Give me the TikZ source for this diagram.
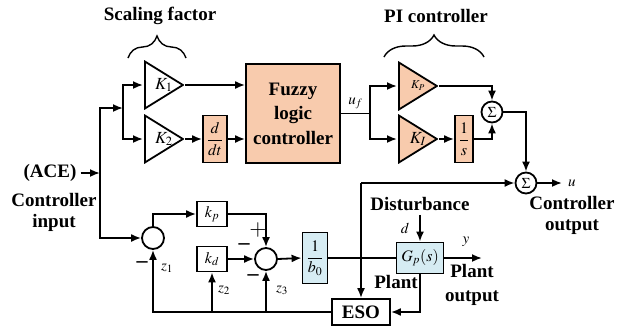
\documentclass[tikz,border=0pt]{standalone}
\usepackage{mathptmx}
\usepackage[no-math]{fontspec}
\setmainfont{Liberation Serif}
\usepackage{tikz}
\usetikzlibrary{arrows.meta,positioning,calc,shapes.geometric,decorations.pathreplacing}
\definecolor{peach}{HTML}{F8CBAD}
\definecolor{lightblue}{HTML}{D6ECF3}

\begin{document}
\begin{tikzpicture}[
  x=1pt, y=-1pt,
  line width=1.8pt,
  font=\rmfamily\fontsize{19}{21}\selectfont\bfseries,
  gain/.style={
    minimum width=40pt,
    minimum height=49pt,
    inner sep=0pt,
    anchor=west,
    font=\fontsize{17}{17}\selectfont,
    path picture={
      \draw[fill=#1]
        ($(path picture bounding box.north west)+(1,1)$) --
        ($(path picture bounding box.east)+(-1,0)$) --
        ($(path picture bounding box.south west)+(1,-1)$) -- cycle;
    }
  },
  gain/.default=white,
  block/.style={
    draw,
    inner sep=1pt,
    font=\fontsize{16}{16}\selectfont
  },
  sumnode/.style={
    draw,
    circle,
    minimum size=21pt,
    inner sep=0pt,
    font=\fontsize{15}{15}\selectfont
  },
  arrow/.style={-{Latex[length=10pt,width=8pt]}},
  lbl/.style={align=center},
  mlbl/.style={font=\fontsize{15}{15}\selectfont},
  sgn/.style={font=\rmfamily\fontsize{22}{22}\selectfont\bfseries}
]
\useasboundingbox (0,0) rectangle (619,330);

% upper path: scaling gains and fuzzy logic controller
\node[lbl] (scaltxt) at (160,16) {Scaling factor};
\node[lbl] (pitxt) at (436,16) {PI controller};
\draw[decorate,decoration={brace,amplitude=22pt},line width=1.4pt] (128,58) -- (186,58);
\draw[decorate,decoration={brace,amplitude=22pt},line width=1.4pt] (384,57) -- (484,57);

\node[gain] (k1) at (143,85) {$K_1$\hspace{10pt}};
\node[gain] (k2) at (143,139) {$K_2$\hspace{10pt}};
\node[block,fill=peach,minimum width=24pt,minimum height=47pt] (ddt) at (215,139) {$\displaystyle\frac{d}{dt}$};
\node[draw,fill=peach,align=center,minimum width=94pt,minimum height=99pt,font=\rmfamily\fontsize{19}{24.5}\selectfont\bfseries] (flc) at (293,113.5) {Fuzzy\\logic\\controller};

\node[gain=peach,font=\fontsize{12}{12}\selectfont] (kP) at (397,86) {$K_P$\hspace{12pt}};
\node[gain=peach] (kI) at (397,139) {$K_I$\hspace{10pt}};
\node[block,fill=peach,minimum width=18pt,minimum height=47pt] (integ) at (464,139) {$\displaystyle\frac{1}{s}$};
\node[sumnode] (sum1) at (492,112) {$\Sigma$};
\node[sumnode] (sum2) at (526,183) {$\Sigma$};

\coordinate (jin) at (100,173);
\coordinate (jsplit) at (123,108);
\coordinate (juf) at (370,113.5);
\coordinate (uout) at (562,183);

\node[lbl] (ace) at (50,173) {(ACE)};
\node[lbl] (cin) at (54,212) {Controller\\input};
\draw[arrow] (ace) -- (jin);
\draw[arrow] (jin) |- (jsplit);
\draw[arrow] (jsplit) |- (k1.west);
\draw[arrow] (jsplit) |- (k2.west);
\draw[arrow] (k1.east) -- (k1.east -| flc.west);
\draw[arrow] (k2.east) -- (ddt.west);
\draw[arrow] (ddt.east) -- (ddt.east -| flc.west);

\draw (flc.east) -- node[above,mlbl]{$u_f$} (juf);
\draw[arrow] (juf) |- (kP.west);
\draw[arrow] (juf) |- (kI.west);
\draw[arrow] (kP.east) -| (sum1.north);
\draw[arrow] (kI.east) -- (integ.west);
\draw[arrow] (integ.east) -| (sum1.south);
\draw[arrow] (sum1.east) -| (sum2.north);
\draw[arrow] (sum2.east) -- (uout);
\node[mlbl,right=2pt of uout] (ulbl) {$u$};
\node[lbl] (cout) at (572,215) {Controller\\output};

% lower path: ADRC loop with ESO
\node[sumnode,minimum size=22pt] (sumA) at (153,238) {};
\node[block,minimum width=30pt,minimum height=25pt] (kp) at (212,214) {$k_p$};
\node[block,minimum width=30pt,minimum height=25pt] (kd) at (212,259) {$k_d$};
\node[sumnode,minimum size=22pt] (sumB) at (266,259) {};
\node[block,fill=lightblue,minimum width=25pt,minimum height=51pt] (binv) at (315,258) {$\displaystyle\frac{1}{b_0}$};
\node[block,fill=lightblue,minimum width=47pt,minimum height=31pt] (gp) at (420,258) {$G_p(s)$};
\node[draw,minimum width=58pt,minimum height=26pt,inner sep=1pt] (eso) at (361,312) {ESO};

\draw[arrow] (jin) |- (sumA.west);
\draw[arrow] (sumA.north) |- (kp.west);
\draw[arrow] (kp.east) -| (sumB.north);
\draw[arrow] (kd.east) -- (sumB.west);
\draw[arrow] (sumB.east) -- (binv.west);
\draw (binv.east) -- (gp.west);

\coordinate (jeso) at (361,183);
\draw[arrow] (jeso) -- (sum2.west);
\draw[arrow] (jeso) -- (eso.north);

\node[lbl] (dist) at (420,204) {Disturbance};
\draw[arrow] (dist.south -| gp.north) -- (gp.north);
\node[mlbl] (dlbl) at (405,228) {$d$};
\coordinate (yout) at (482,258);
\draw[arrow] (gp.east) -- (yout);
\node[mlbl] (ylbl) at (466,242) {$y$};
\node[lbl] (plant) at (396,282) {Plant};
\node[lbl,font=\rmfamily\fontsize{19}{24}\selectfont\bfseries] (pout) at (472,285) {Plant\\output};
\draw[arrow] (gp.south) |- (eso.east);

\draw[arrow] (eso.west) -| (sumA.south);
\draw[arrow] (eso.west -| kd.south) -- (kd.south);
\draw[arrow] (eso.west -| sumB.south) -- (sumB.south);

\node[mlbl,font=\fontsize{22}{22}\selectfont] (plus) at (258,230) {$+$};
\node[sgn] (minB) at (244,247) {--};
\node[sgn] (minC) at (253,278) {--};
\node[sgn] (minA) at (142,265) {--};
\node[mlbl] (z1) at (167,268) {$z_1$};
\node[mlbl] (z2) at (224,290) {$z_2$};
\node[mlbl] (z3) at (282,290) {$z_3$};
\end{tikzpicture}
\end{document}
